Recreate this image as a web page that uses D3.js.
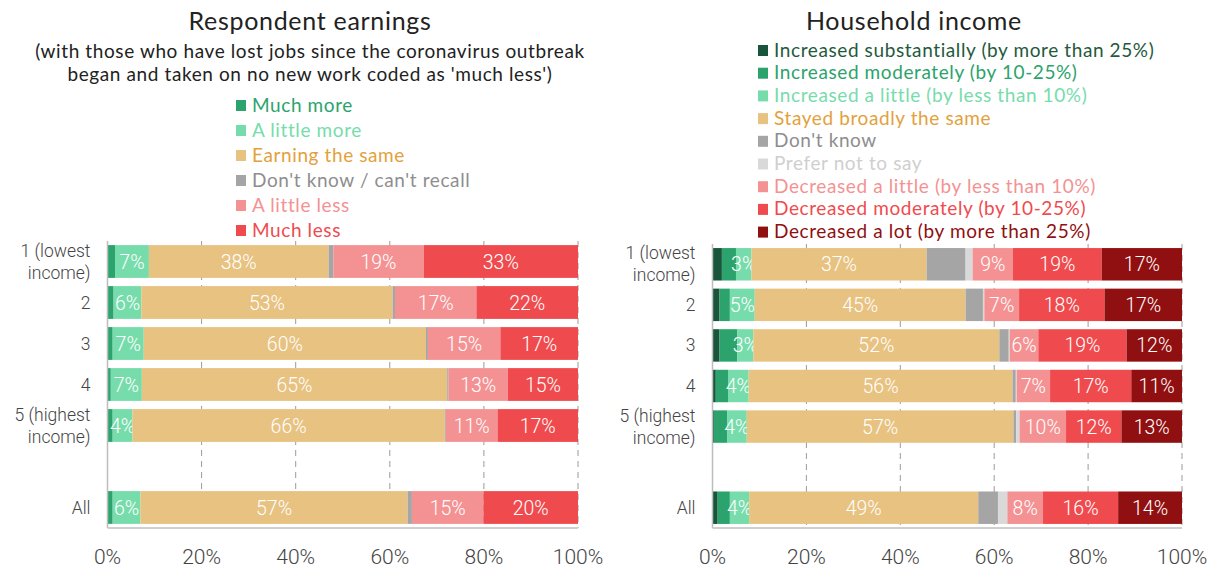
<!DOCTYPE html>
<html>
<head>
<meta charset="utf-8">
<script src="https://cdn.jsdelivr.net/npm/d3@7"></script>
<style>
  body { margin: 0; background: #fff; }
  svg text { font-family: "Lato", sans-serif; }
</style>
</head>
<body>
<div id="vis"></div>
<script>
// rows, bottom one is the total
var rows = ["1 (lowest|income)", "2", "3", "4", "5 (highest|income)", "All"];

// left panel: respondent earnings
var earnSeries = ["Much more", "A little more", "Earning the same", "Don't know / can't recall", "A little less", "Much less"];
var earnColors = ["#2ca36c", "#77dcab", "#e8c281", "#a5a5a5", "#f49293", "#ef4b4e"];
var earnText   = ["#2ca36c", "#77dcab", "#e3a13c", "#8e8e8e", "#f49293", "#ef4b4e"];
var earnLabelled = [false, true, true, false, true, true];
var earnValues = [
  [1.6, 7.2, 38.2, 1.0, 19.2, 32.8],
  [1.3, 5.9, 53.4, 0.5, 17.3, 21.6],
  [1.1, 6.6, 60.0, 0.4, 15.4, 16.5],
  [0.7, 6.6, 64.9, 0.3, 12.6, 14.9],
  [1.1, 4.2, 66.4, 0.2, 11.0, 17.1],
  [1.1, 5.9, 56.8, 0.9, 15.2, 20.1]
];

// right panel: household income
var incSeries = ["Increased substantially (by more than 25%)", "Increased moderately (by 10-25%)", "Increased a little (by less than 10%)",
  "Stayed broadly the same", "Don't know", "Prefer not to say",
  "Decreased a little (by less than 10%)", "Decreased moderately (by 10-25%)", "Decreased a lot (by more than 25%)"];
var incColors = ["#18553a", "#2ca36c", "#77dcab", "#e8c281", "#a5a5a5", "#d9d9d9", "#f49293", "#ef4b4e", "#900f10"];
var incText   = ["#1f5a3d", "#2ca36c", "#77dcab", "#e3a13c", "#8e8e8e", "#cfcfcf", "#f49293", "#ef4b4e", "#900f10"];
var incLabelled = [false, false, true, true, false, false, true, true, true];
var incValues = [
  [2.0, 3.0, 3.3, 37.3, 8.3, 1.5, 8.6, 18.9, 17.1],
  [1.5, 2.2, 5.3, 44.9, 3.7, 0.3, 7.4, 18.2, 16.5],
  [1.5, 3.8, 3.4, 52.4, 2.0, 0.2, 6.1, 18.8, 11.8],
  [0.7, 2.6, 4.4, 56.2, 0.7, 0.2, 7.1, 17.3, 10.8],
  [0.3, 2.8, 4.2, 56.8, 0.6, 0.7, 9.9, 11.8, 12.9],
  [1.1, 2.6, 4.1, 48.8, 4.2, 2.0, 7.6, 16.0, 13.6]
];

var ticks = [0, 20, 40, 60, 80, 100];

var w = 1214, h = 568;
var svg = d3.select("#vis").append("svg")
  .attr("width", w).attr("height", h);

function panel(opt) {
  var g = svg.append("g");
  var x = d3.scaleLinear().domain([0, 100]).range([opt.x0, opt.x1]);
  // blank band between 5 and All
  var domain = rows.slice(0, 5).concat(["gap"], rows.slice(5));
  var y = d3.scaleBand().domain(domain).range([opt.yTop, 528]).paddingInner(0.2).paddingOuter(0.1);

  // title + subtitle
  var cx = opt.titleX;
  g.append("text").attr("x", cx).attr("y", 30).attr("text-anchor", "middle")
    .style("font-size", "25px").style("letter-spacing", "0.7px").attr("fill", "#222").text(opt.title);
  opt.sub.forEach(function (s, i) {
    g.append("text").attr("x", cx).attr("y", 58 + i * 23).attr("text-anchor", "middle")
      .style("font-size", "19px").style("letter-spacing", "0.6px").attr("fill", "#222").text(s);
  });

  // legend
  var leg = g.selectAll(".leg").data(opt.series).enter().append("g")
    .attr("transform", function (d, i) { return "translate(" + opt.legX + "," + (opt.legY + i * opt.legStep) + ")"; });
  leg.append("rect").attr("x", 0).attr("y", -5).attr("width", 10).attr("height", 11)
    .attr("fill", function (d, i) { return opt.colors[i]; });
  leg.append("text").attr("x", 16).attr("y", 6.5)
    .style("font-size", "19px").style("letter-spacing", "0.6px")
    .attr("fill", function (d, i) { return opt.text[i]; })
    .text(function (d) { return d; });

  // dashed grid
  g.selectAll(".grid").data(ticks.slice(1)).enter().append("line")
    .attr("x1", function (d) { return x(d); }).attr("x2", function (d) { return x(d); })
    .attr("y1", opt.yTop).attr("y2", 528)
    .attr("stroke", "#9a9a9a").attr("stroke-dasharray", "6,5");

  // bars
  opt.values.forEach(function (vals, r) {
    var cum = 0;
    vals.forEach(function (v, s) {
      var x0 = cum;
      cum += v;
      var yy = y(rows[r]);
      g.append("rect").attr("x", x(x0)).attr("y", yy)
        .attr("width", x(cum) - x(x0)).attr("height", y.bandwidth())
        .attr("fill", opt.colors[s]);
      if (opt.labelled[s]) {
        g.append("text").attr("x", x(x0 + v / 2)).attr("y", yy + y.bandwidth() / 2 + 7)
          .attr("text-anchor", "middle").attr("fill", "#fff")
          .style("font-family", "Roboto").style("font-weight", 300).style("font-size", "19.5px")
          .text(Math.round(v) + "%");
      }
    });
  });

  // axis lines
  g.append("line").attr("x1", x(0)).attr("x2", x(0)).attr("y1", opt.yTop).attr("y2", 528)
    .attr("stroke", "#bdbdbd").attr("stroke-width", 1.5);
  g.append("line").attr("x1", x(0)).attr("x2", x(100)).attr("y1", 528).attr("y2", 528)
    .attr("stroke", "#cfcfcf").attr("stroke-width", 2);

  // x tick labels
  g.selectAll(".tick").data(ticks).enter().append("text")
    .attr("x", function (d) { return x(d); }).attr("y", 564)
    .attr("text-anchor", "middle").attr("fill", "#444")
    .style("font-family", "Roboto").style("font-weight", 300).style("font-size", "21px")
    .text(function (d) { return d + "%"; });

  // row labels
  rows.forEach(function (rw) {
    var parts = rw.split("|");
    var mid = y(rw) + y.bandwidth() / 2;
    parts.forEach(function (p, i) {
      g.append("text").attr("x", opt.x0 - 17)
        .attr("y", mid + 6 + (i - (parts.length - 1) / 2) * 22)
        .attr("text-anchor", "end").attr("fill", "#444")
        .style("font-family", "Roboto").style("font-weight", 300).style("font-size", "17.5px")
        .text(p);
    });
  });
}

panel({
  x0: 107.5, x1: 578, yTop: 241, titleX: 310,
  title: "Respondent earnings",
  sub: ["(with those who have lost jobs since the coronavirus outbreak", "began and taken on no new work coded as 'much less')"],
  series: earnSeries, colors: earnColors, text: earnText, labelled: earnLabelled, values: earnValues,
  legX: 236, legY: 105, legStep: 25
});

panel({
  x0: 712.5, x1: 1182, yTop: 244, titleX: 914,
  title: "Household income",
  sub: [],
  series: incSeries, colors: incColors, text: incText, labelled: incLabelled, values: incValues,
  legX: 758, legY: 50, legStep: 22.7
});
</script>
</body>
</html>
